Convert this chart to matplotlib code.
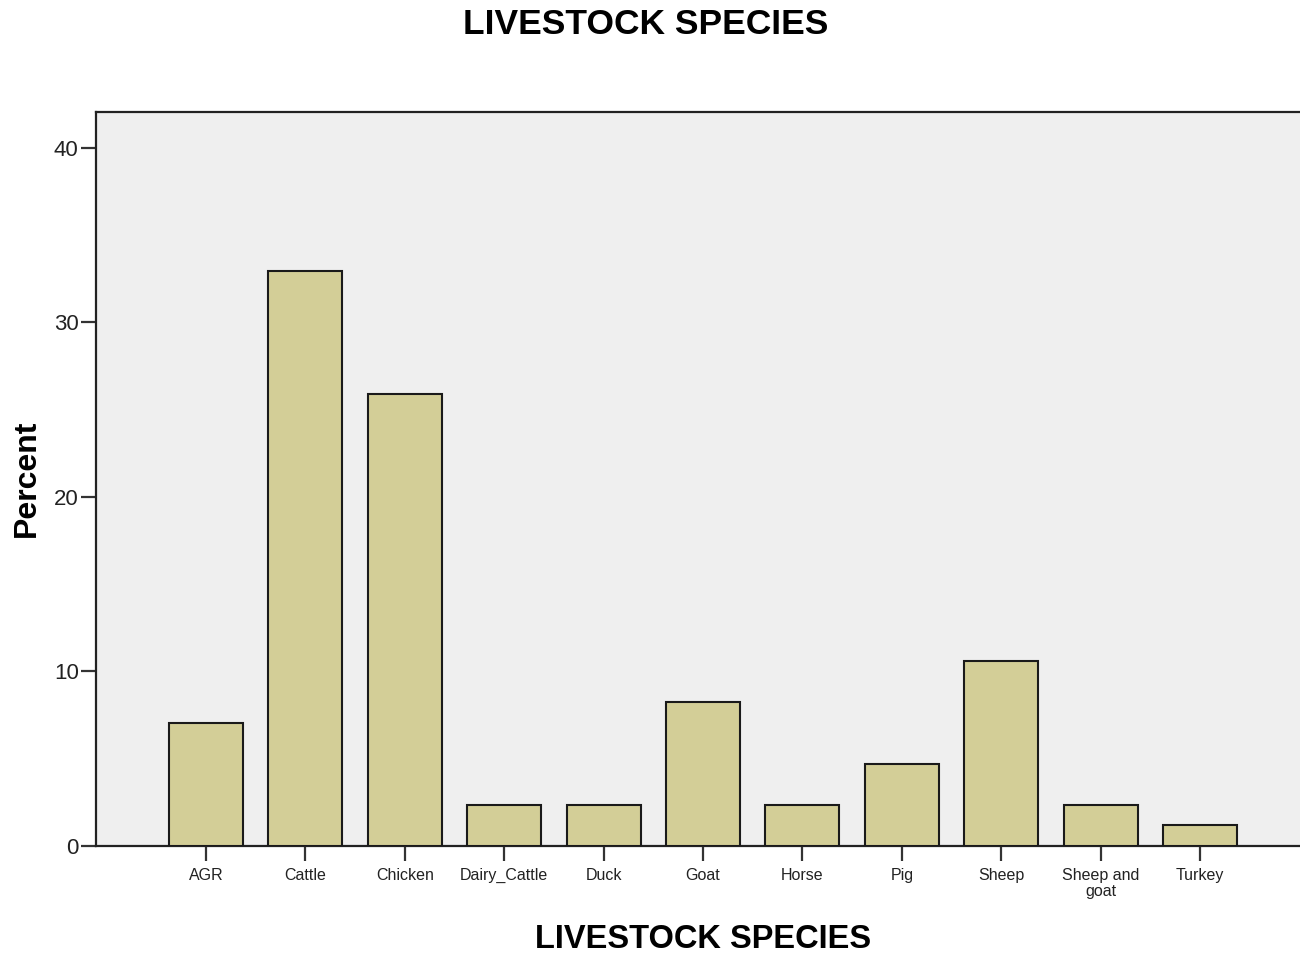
import matplotlib
matplotlib.use("Agg")
import matplotlib.pyplot as plt
import numpy as np

categories = ["AGR", "Cattle", "Chicken", "Dairy_Cattle", "Duck", "Goat",
              "Horse", "Pig", "Sheep", "Sheep and\ngoat", "Turkey"]
percent = [7.06, 32.94, 25.88, 2.35, 2.35, 8.24, 2.35, 4.71, 10.59, 2.35, 1.18]
yticks = [0, 10, 20, 30, 40]

plt.rcParams['font.family'] = ['Liberation Sans', 'DejaVu Sans']

fig = plt.figure(figsize=(13, 9.56), dpi=100)
ax = fig.add_axes([96/1300, 1-846/956, 1-96/1300, (846-112)/956])
ax.set_facecolor('#EFEFEF')

x = np.arange(len(categories))
ax.bar(x, percent, width=0.745, color='#D3CE97', edgecolor='#1a1a1a', linewidth=1.5, zorder=3)

ax.set_xlim(-1.107, 11.006)
ax.set_ylim(0, 42.06)
ax.set_xticks(x)
ax.set_xticklabels(categories, fontsize=11.5, color='#222222', linespacing=1.05)
ax.set_yticks(yticks)
ax.set_yticklabels([str(v) for v in yticks], fontsize=16, color='#222222')
ax.tick_params(axis='both', length=11, width=1.6, color='#333333')
ax.tick_params(axis='y', pad=1.5)
ax.tick_params(axis='x', pad=5)

for s in ['left', 'top', 'bottom']:
    ax.spines[s].set_linewidth(1.6)
    ax.spines[s].set_color('#222222')
ax.spines['right'].set_visible(False)

fig.text(0.497, 1-24/956, "LIVESTOCK SPECIES", ha='center', va='center',
         fontsize=25.5, fontweight='bold')
fig.text(703/1300, 1-939/956, "LIVESTOCK SPECIES", ha='center', va='center',
         fontsize=23.5, fontweight='bold')
fig.text(27/1300, 1-478/956, "Percent", ha='center', va='center',
         rotation=90, fontsize=23, fontweight='bold')

fig.savefig("out.png", dpi=100)
